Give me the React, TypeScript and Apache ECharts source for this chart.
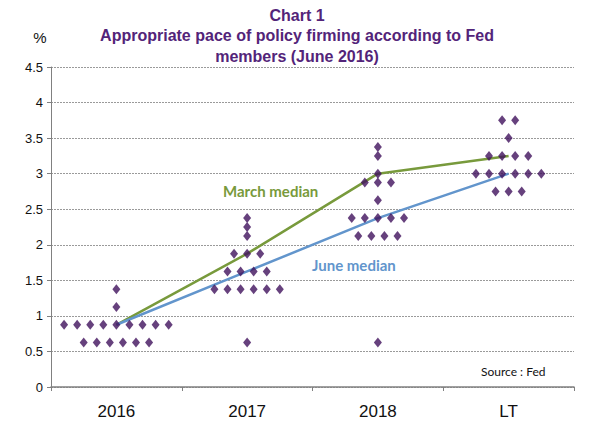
import React, { useEffect, useRef } from "react";
import * as echarts from "echarts";

const categories = ["2016", "2017", "2018", "LT"];
// [rate, number of participants]
const dots2016 = [[0.625, 6], [0.875, 9], [1.125, 1], [1.375, 1]];
const dots2017 = [[0.625, 1], [1.375, 6], [1.625, 4], [1.875, 3], [2.125, 1], [2.25, 1], [2.375, 1]];
const dots2018 = [[0.625, 1], [2.125, 4], [2.375, 5], [2.625, 1], [2.875, 3], [3.0, 1], [3.25, 1], [3.375, 1]];
const dotsLT = [[2.75, 3], [3.0, 6], [3.25, 4], [3.5, 1], [3.75, 2]];
const marchMedian = [0.875, 1.875, 3.0, 3.25];
const juneMedian = [0.875, 1.625, 2.375, 3.0];
const yTicks = [0, 0.5, 1, 1.5, 2, 2.5, 3, 3.5, 4, 4.5];

const titleLines = ["Chart 1", "Appropriate pace of policy firming according to Fed", "members (June 2016)"];

export default function App() {
  const ref = useRef<HTMLDivElement>(null);
  useEffect(() => {
    if (!ref.current) return;
    const chart = echarts.init(ref.current, undefined, { renderer: "svg" });
    const groups = [dots2016, dots2017, dots2018, dotsLT];
    const step = 0.1;
    const scatterData: number[][] = [];
    groups.forEach((rows, i) => {
      rows.forEach(([rate, n]) => {
        for (let j = 0; j < n; j++) {
          scatterData.push([i + (j - (n - 1) / 2) * step, rate]);
        }
      });
    });
    const purple = "#532479";
    const font = "'Liberation Sans', Arial, sans-serif";
    chart.setOption({
      animation: false,
      backgroundColor: "#ffffff",
      grid: { left: 51, right: 26, top: 67, bottom: 42, containLabel: false },
      xAxis: [
        {
          type: "category",
          data: categories,
          boundaryGap: true,
          axisLine: { onZero: false, lineStyle: { color: "#808080", width: 1.5 } },
          axisTick: { show: true, length: 4, lineStyle: { color: "#808080" } },
          axisLabel: { color: "#111", fontSize: 17, fontFamily: font, margin: 16 },
          splitLine: { show: false },
        },
        {
          type: "value",
          min: -0.5,
          max: 3.5,
          show: false,
        },
      ],
      yAxis: {
        type: "value",
        min: 0,
        max: 4.5,
        interval: 0.5,
        axisLine: { show: true, onZero: false, lineStyle: { color: "#808080", width: 1 } },
        axisTick: { show: true, length: 4, lineStyle: { color: "#808080" } },
        axisLabel: {
          color: "#111",
          fontSize: 13,
          fontFamily: font,
          margin: 8,
          formatter: (v: number) => (yTicks.includes(v) ? String(v) : ""),
        },
        splitLine: { show: true, lineStyle: { color: "#9a9a9a", type: [2, 1], width: 1 } },
      },
      series: [
        {
          name: "March median",
          type: "line",
          xAxisIndex: 0,
          data: marchMedian,
          symbol: "none",
          lineStyle: { color: "#789a3c", width: 2.5 },
          z: 3,
        },
        {
          name: "June median",
          type: "line",
          xAxisIndex: 0,
          data: juneMedian,
          symbol: "none",
          lineStyle: { color: "#6295cc", width: 2.5 },
          z: 3,
        },
        {
          name: "Participants",
          type: "scatter",
          xAxisIndex: 1,
          data: scatterData,
          symbol: "diamond",
          symbolSize: [8, 10],
          itemStyle: { color: "#40125c" },
          z: 4,
        },
      ],
      graphic: [
        ...titleLines.map((t, i) => ({
          type: "text",
          x: 297,
          y: 15 + i * 20.5,
          style: {
            text: t,
            fill: purple,
            font: `bold 16px ${font}`,
            textAlign: "center",
            textVerticalAlign: "middle",
          },
        })),
        {
          type: "text",
          x: 40,
          y: 37,
          style: { text: "%", fill: "#111", font: `15px ${font}`, textAlign: "center", textVerticalAlign: "middle" },
        },
        {
          type: "text",
          x: 223,
          y: 191,
          style: { text: "March median", fill: "#789a3c", font: `bold 15px Lato, 'Open Sans', sans-serif`, textVerticalAlign: "middle" },
        },
        {
          type: "text",
          x: 312,
          y: 265,
          style: { text: "June median", fill: "#6295cc", font: `bold 15px Lato, 'Open Sans', sans-serif`, textVerticalAlign: "middle" },
        },
        {
          type: "text",
          x: 481,
          y: 371,
          style: { text: "Source : Fed", fill: "#111", font: `12px Lato, 'Open Sans', sans-serif`, textVerticalAlign: "middle" },
        },
      ],
    });
    return () => chart.dispose();
  }, []);
  return <div ref={ref} style={{ width: 600, height: 429, position: "absolute", left: 0, top: 0 }} />;
}
